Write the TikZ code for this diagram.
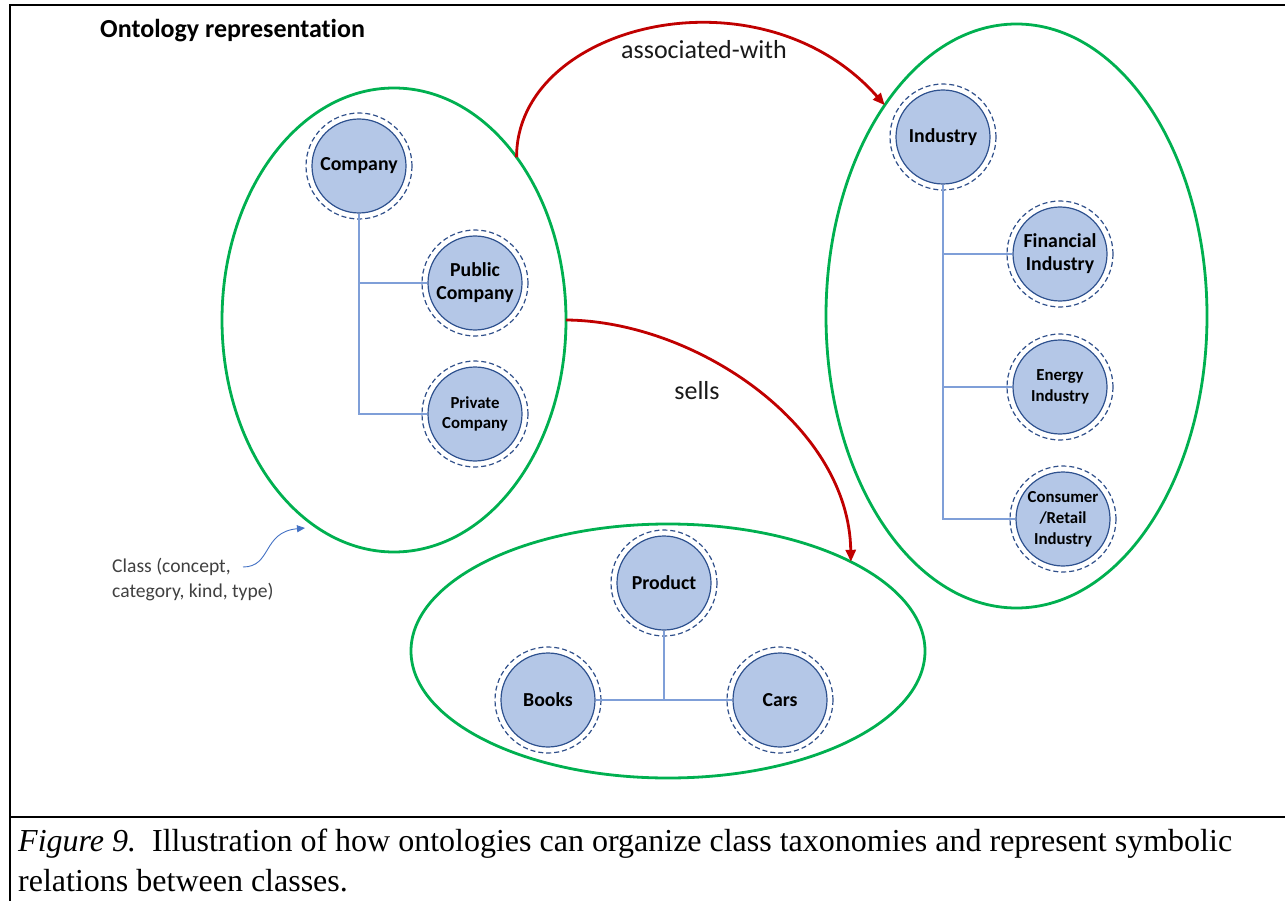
\documentclass[tikz,border=0pt]{standalone}
\usepackage{fontspec}
\setmainfont{Liberation Serif}
\newfontfamily\calib[Ligatures=NoCommon]{Carlito}
\usetikzlibrary{shapes.geometric,arrows.meta}

\definecolor{ringgreen}{HTML}{00B050}
\definecolor{conceptfill}{HTML}{B4C7E7}
\definecolor{conceptedge}{HTML}{2F528F}
\definecolor{dashring}{HTML}{2F4F8A}
\definecolor{isaline}{HTML}{7F9FD8}
\definecolor{relred}{HTML}{C00000}
\definecolor{notegray}{HTML}{404040}
\definecolor{noteblue}{HTML}{4472C4}

\begin{document}
\begin{tikzpicture}[x=1pt,y=-1pt,
  classring/.style={ellipse, draw=ringgreen, line width=2.8pt, inner sep=0pt, outer sep=0pt},
  concept/.style={circle, draw=conceptedge, line width=1.2pt, fill=conceptfill,
    minimum size=94pt, inner sep=0pt, align=center, text=black,
    font=\calib\bfseries\fontsize{19.8}{23}\selectfont},
  conceptsm/.style={concept, font=\calib\bfseries\fontsize{16.8}{20.5}\selectfont},
  dashedring/.style={draw=dashring, line width=1.2pt, dash pattern=on 5pt off 3pt},
  isa/.style={draw=isaline, line width=1.1pt},
  relation/.style={draw=relred, line width=2.8pt, -{Triangle[length=12pt,width=10pt]}},
  rellabel/.style={font=\calib\fontsize{26}{30}\selectfont, text=black!90},
  notetext/.style={font=\calib\fontsize{19.6}{25}\selectfont, text=notegray, align=left, anchor=north west, inner sep=0pt},
  notearrow/.style={draw=noteblue, line width=0.9pt, -{Triangle[length=8pt,width=7pt]}}
]
\useasboundingbox (0,0) rectangle (1285,901);

% frame and caption separator
\draw[line width=2.5pt] (10,901) -- (10,5) -- (1286,5);
\draw[line width=2.5pt] (10,817) -- (1286,817);

% heading
\node[font=\calib\bfseries\fontsize{26}{30}\selectfont, anchor=west, inner sep=0pt] (heading) at (100,31) {Ontology representation};

% class regions
\node[classring, minimum width=344, minimum height=464] (companyset) at (394,320) {};
\node[classring, minimum width=381, minimum height=584] (industryset) at (1016.5,316) {};
\node[classring, minimum width=514, minimum height=254] (productset) at (668,651) {};

% relations between classes
\draw[relation] (companyset.53) .. controls (516,24) and (760,-36) .. (industryset.122);
\draw[relation] (companyset.east) .. controls (695,321) and (849,425) .. (productset.26.7);
\node[rellabel] (assoc) at (704,50) {associated-with};
\node[rellabel] (sells) at (697,391) {sells};

% company taxonomy
\node[concept] (company) at (359,166) {Company};
\node[concept] (public) at (475,283) {Public\\Company};
\node[conceptsm] (private) at (475,414) {Private\\Company};

% industry taxonomy
\node[concept] (industry) at (943,137) {Industry};
\node[concept] (financial) at (1060,254) {Financial\\Industry};
\node[conceptsm] (energy) at (1060,387) {Energy\\Industry};
\node[conceptsm, font=\calib\bfseries\fontsize{16.8}{21}\selectfont] (consumer) at (1063,519) {Consumer\\/Retail\\Industry};

% product taxonomy
\node[concept] (product) at (664,583) {Product};
\node[concept] (books) at (548,700) {Books};
\node[concept] (cars) at (780,700) {Cars};

% dashed outer rings
\foreach \n in {company,public,private,industry,financial,energy,consumer,product,books,cars}
  \draw[dashedring] (\n.center) circle[radius=53];

% subclass links
\draw[isa] (company.south) |- (public.west);
\draw[isa] (company.south) |- (private.west);
\draw[isa] (industry.south) |- (financial.west);
\draw[isa] (industry.south) |- (energy.west);
\draw[isa] (industry.south) |- (consumer.west);
\draw[isa] (product.south) -- (product.south |- books.east);
\draw[isa] (books.east) -- (cars.west);

% annotation of a class region
\node[notetext] (classnote) at (112,558) {Class (concept,\\category, kind, type)};
\coordinate (notetail) at (243,567);
\coordinate (notehead) at (305,528);
\draw[notearrow] (notetail) .. controls (272,567) and (262,532) .. (notehead);

% caption
\node[anchor=base west, inner sep=0pt, font=\fontsize{32}{40}\selectfont] (caption1) at (18,851)
  {\textit{Figure 9.}\ \ Illustration of how ontologies can organize class taxonomies and represent symbolic};
\node[anchor=base west, inner sep=0pt, font=\fontsize{32}{40}\selectfont] (caption2) at (18,891)
  {relations between classes.};
\end{tikzpicture}
\end{document}
